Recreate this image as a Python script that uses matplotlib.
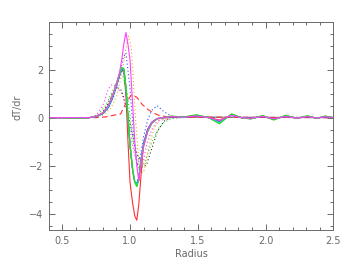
import matplotlib
matplotlib.use("Agg")
import matplotlib.pyplot as plt
from matplotlib.ticker import MultipleLocator

# Shared radius grid for solid curves
X = [0.40, 0.50, 0.60, 0.70, 0.75, 0.80, 0.84, 0.87, 0.90, 0.92, 0.94, 0.955, 0.97, 0.985,
     1.00, 1.02, 1.035, 1.05, 1.065, 1.08, 1.10, 1.13, 1.16, 1.20, 1.25, 1.30, 1.40, 1.49,
     1.58, 1.66, 1.75, 1.82, 1.89, 1.98, 2.06, 2.15, 2.23, 2.31, 2.38, 2.44, 2.50]

green_solid = [0, 0, -0.02, 0.0, 0.05, 0.2, 0.5, 0.9, 1.4, 1.8, 2.1, 2.05, 1.3, 0.1,
               -1.1, -2.2, -2.7, -2.88, -2.6, -1.9, -1.2, -0.6, -0.25, -0.05, 0.0, 0.06, 0.03, 0.12,
               0.0, -0.26, 0.16, 0.0, -0.06, 0.09, -0.1, 0.1, -0.03, 0.08, -0.03, 0.07, 0.0]
cyan_solid = [0, 0, -0.01, 0.0, 0.04, 0.18, 0.45, 0.85, 1.35, 1.75, 2.05, 2.0, 1.25, 0.0,
              -1.15, -2.2, -2.65, -2.8, -2.55, -1.85, -1.15, -0.55, -0.22, -0.04, 0.0, 0.05, 0.02, 0.09,
              0.0, -0.2, 0.13, 0.0, -0.04, 0.07, -0.08, 0.08, -0.02, 0.06, -0.02, 0.05, 0.0]
blue_solid = [0, 0, -0.01, 0.0, 0.04, 0.17, 0.42, 0.8, 1.3, 1.7, 2.0, 1.95, 1.2, -0.05,
              -1.2, -2.25, -2.7, -2.75, -2.5, -1.8, -1.1, -0.5, -0.2, -0.04, 0.0, 0.04, 0.02, 0.07,
              0.0, -0.15, 0.1, 0.0, -0.03, 0.05, -0.06, 0.06, -0.02, 0.05, -0.02, 0.04, 0.0]
black_solid = [0, 0, -0.01, 0.0, 0.04, 0.17, 0.44, 0.82, 1.32, 1.72, 2.02, 1.98, 1.22, 0.0,
               -1.15, -2.2, -2.68, -2.78, -2.52, -1.82, -1.12, -0.52, -0.2, -0.04, 0.0, 0.04, 0.02, 0.08,
               0.0, -0.18, 0.12, 0.0, -0.04, 0.06, -0.07, 0.07, -0.02, 0.05, -0.02, 0.05, 0.0]
gold_solid = [0, 0, -0.01, 0.0, 0.05, 0.2, 0.48, 0.88, 1.38, 1.78, 2.08, 2.02, 1.28, 0.05,
              -1.1, -2.15, -2.65, -2.85, -2.6, -1.9, -1.2, -0.58, -0.24, -0.05, 0.0, 0.06, 0.03, 0.11,
              0.0, -0.22, 0.15, 0.0, -0.05, 0.08, -0.09, 0.09, -0.03, 0.07, -0.03, 0.06, 0.0]
red_solid = [0, 0, 0.0, 0.0, 0.05, 0.2, 0.5, 0.9, 1.4, 1.8, 2.0, 1.9, 0.9, -1.0,
             -2.7, -3.6, -4.1, -4.28, -3.6, -2.5, -1.1, -0.5, -0.2, -0.05, 0.0, 0.03, 0.02, 0.05,
             0.0, -0.1, 0.1, 0.0, -0.03, 0.05, -0.05, 0.05, -0.02, 0.04, -0.02, 0.04, 0.0]
magenta_solid = [0, 0, 0.0, 0.0, 0.05, 0.2, 0.5, 0.9, 1.4, 1.8, 2.45, 3.1, 3.55, 3.05,
                 2.4, 0.5, -1.0, -2.0, -2.65, -2.0, -1.2, -0.55, -0.22, -0.04, 0.0, 0.04, 0.02, 0.07,
                 0.0, -0.12, 0.1, 0.0, -0.03, 0.05, -0.05, 0.05, -0.02, 0.04, -0.02, 0.04, 0.0]

# Dotted / dashed curves
magenta_dot_x = [0.4, 0.7, 0.75, 0.8, 0.84, 0.87, 0.9, 0.94, 0.98, 1.02, 1.06, 1.09, 1.12, 1.16, 1.2, 1.3, 1.5, 2.5]
magenta_dot_y = [0, 0, 0.1, 0.5, 1.2, 1.4, 1.3, 1.0, 0.2, -1.2, -2.2, -2.1, -1.2, -0.5, -0.15, 0.0, 0.02, 0]
black_dot_x = [0.4, 0.7, 0.78, 0.83, 0.87, 0.9, 0.93, 0.97, 1.01, 1.05, 1.09, 1.12, 1.16, 1.2, 1.25, 1.3, 1.4, 2.5]
black_dot_y = [0, 0, 0.1, 0.5, 1.0, 1.25, 1.2, 0.6, -0.5, -1.5, -2.0, -2.0, -1.3, -0.6, -0.15, 0.0, 0.02, 0]
green_dot_x = [0.4, 0.7, 0.76, 0.82, 0.87, 0.91, 0.95, 0.98, 1.01, 1.04, 1.07, 1.10, 1.13, 1.17, 1.21, 1.25, 1.3, 1.4, 2.5]
green_dot_y = [0, 0, 0.1, 0.5, 1.1, 1.6, 1.7, 1.0, -0.4, -1.6, -2.2, -2.0, -1.5, -0.9, -0.45, -0.2, -0.05, 0.02, 0]
blue_dot_x = [0.4, 0.7, 0.78, 0.84, 0.88, 0.92, 0.95, 0.97, 1.0, 1.03, 1.055, 1.08, 1.1, 1.13, 1.16, 1.2, 1.25, 1.3, 1.36, 1.45, 2.5]
blue_dot_y = [0, 0, 0.1, 0.4, 0.9, 1.7, 2.5, 2.7, 1.2, -1.0, -2.0, -1.5, -0.8, -0.1, 0.3, 0.5, 0.25, 0.08, 0.0, 0.02, 0]
gold_dot_x = [0.4, 0.7, 0.8, 0.86, 0.9, 0.94, 0.97, 0.99, 1.01, 1.04, 1.07, 1.1, 1.14, 1.18, 1.22, 1.3, 1.4, 2.5]
gold_dot_y = [0, 0, 0.1, 0.4, 0.9, 1.8, 2.9, 3.4, 2.9, 0.0, -2.2, -2.3, -1.2, -0.4, -0.1, 0.0, 0.02, 0]
red_dash_x = [0.4, 0.6, 0.75, 0.82, 0.88, 0.93, 0.97, 1.01, 1.05, 1.09, 1.13, 1.17, 1.22, 1.28, 1.35, 1.5, 2.5]
red_dash_y = [0, 0, 0.0, 0.03, 0.1, 0.15, 0.6, 0.95, 0.85, 0.55, 0.35, 0.2, 0.08, 0.03, 0.0, 0.02, 0]

GRAY = "#6a6a6a"
plt.rcParams['font.family'] = ['DejaVu Sans']

fig = plt.figure(figsize=(3.54, 2.75), dpi=100)
ax = fig.add_axes([0.1376, 0.1625, 0.9415 - 0.1376, 0.921 - 0.1625])

dot = (0, (1, 2.2))
lw = 0.8
ax.plot(magenta_dot_x, magenta_dot_y, color="#ff40ff", ls=dot, lw=lw)
ax.plot(black_dot_x, black_dot_y, color="#333333", ls=dot, lw=lw)
ax.plot(green_dot_x, green_dot_y, color="#22dd22", ls=dot, lw=lw)
ax.plot(blue_dot_x, blue_dot_y, color="#3050ff", ls=dot, lw=lw)
ax.plot(gold_dot_x, gold_dot_y, color="#e0b020", ls=dot, lw=lw)
ax.plot(red_dash_x, red_dash_y, color="#ff3030", ls=(0, (5, 3)), lw=lw)

ax.plot(X, red_solid, color="#ff3030", lw=lw)
ax.plot(X, black_solid, color="#333333", lw=lw)
ax.plot(X, blue_solid, color="#3050ff", lw=lw)
ax.plot(X, gold_solid, color="#e8c020", lw=lw)
ax.plot(X, cyan_solid, color="#20d0d0", lw=lw)
ax.plot(X, green_solid, color="#22dd22", lw=lw)
ax.plot(X, magenta_solid, color="#ff40ff", lw=lw)

ax.set_xlim(0.4, 2.5)
ax.set_ylim(-4.7, 4.0)
ax.xaxis.set_major_locator(MultipleLocator(0.5))
ax.xaxis.set_minor_locator(MultipleLocator(0.1))
ax.yaxis.set_major_locator(MultipleLocator(2))
ax.yaxis.set_minor_locator(MultipleLocator(0.5))
ax.tick_params(which='both', direction='in', top=True, right=True, color=GRAY,
               labelcolor=GRAY, labelsize=7, width=0.7)
ax.tick_params(which='major', length=4, pad=4)
ax.tick_params(which='minor', length=2)
ax.set_xticks([0.5, 1.0, 1.5, 2.0, 2.5])
ax.set_xticklabels(["0.5", "1.0", "1.5", "2.0", "2.5"])
ax.set_yticks([-4, -2, 0, 2])
ax.set_yticklabels(["\u22124", "\u22122", "0", "2"])
for s in ax.spines.values():
    s.set_color(GRAY)
    s.set_linewidth(0.7)

ax.set_xlabel("Radius", color=GRAY, fontsize=7, labelpad=2)
fig.text(18 / 354, 1 - 107 / 275, "dT/dr", rotation=90, color=GRAY, fontsize=7,
         ha='center', va='center')

fig.savefig("out.png", dpi=100)
